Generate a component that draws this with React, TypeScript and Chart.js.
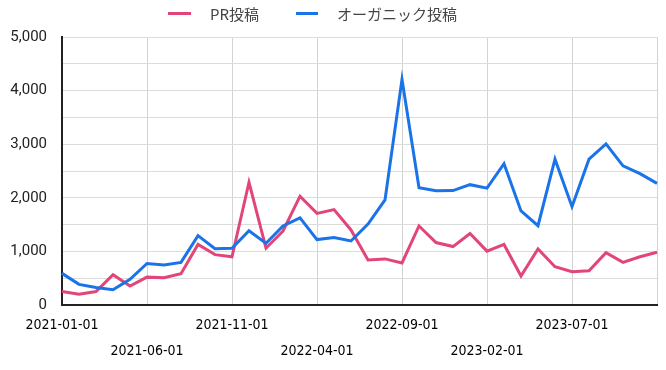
import React, { useEffect, useRef } from "react";
import { Chart, registerables } from "chart.js";

Chart.register(...registerables);

const months: string[] = [
  "2021-01-01", "2021-02-01", "2021-03-01", "2021-04-01", "2021-05-01", "2021-06-01",
  "2021-07-01", "2021-08-01", "2021-09-01", "2021-10-01", "2021-11-01", "2021-12-01",
  "2022-01-01", "2022-02-01", "2022-03-01", "2022-04-01", "2022-05-01", "2022-06-01",
  "2022-07-01", "2022-08-01", "2022-09-01", "2022-10-01", "2022-11-01", "2022-12-01",
  "2023-01-01", "2023-02-01", "2023-03-01", "2023-04-01", "2023-05-01", "2023-06-01",
  "2023-07-01", "2023-08-01", "2023-09-01", "2023-10-01", "2023-11-01", "2023-12-01",
];

const shownLabels: string[] = [
  "2021-01-01", "2021-06-01", "2021-11-01", "2022-04-01", "2022-09-01", "2023-02-01", "2023-07-01",
];

const prPosts: number[] = [
  250, 200, 250, 565, 355, 520, 510, 585, 1130, 940, 900, 2290,
  1060, 1380, 2030, 1710, 1780, 1400, 840, 860, 785, 1475, 1165, 1090,
  1335, 1005, 1130, 540, 1045, 715, 620, 640, 975, 795, 900, 985,
];

const organicPosts: number[] = [
  590, 385, 325, 285, 480, 775, 745, 795, 1295, 1050, 1060, 1385,
  1150, 1475, 1625, 1220, 1260, 1195, 1510, 1960, 4210, 2190, 2130, 2135,
  2245, 2180, 2635, 1755, 1480, 2720, 1835, 2720, 3005, 2595, 2450, 2270,
];

const seriesNames: string[] = ["PR投稿", "オーガニック投稿"];
const yTicks: number[] = [0, 1000, 2000, 3000, 4000, 5000];

const PINK = "#e2457a";
const BLUE = "#1a73e8";

export default function App() {
  const canvasRef = useRef<HTMLCanvasElement | null>(null);

  useEffect(() => {
    if (!canvasRef.current) return;
    const chart = new Chart(canvasRef.current, {
      type: "line",
      data: {
        labels: months,
        datasets: [
          {
            label: seriesNames[0],
            data: prPosts,
            borderColor: PINK,
            backgroundColor: PINK,
            borderWidth: 3,
            pointRadius: 0,
            tension: 0,
            order: 1,
          },
          {
            label: seriesNames[1],
            data: organicPosts,
            borderColor: BLUE,
            backgroundColor: BLUE,
            borderWidth: 3,
            pointRadius: 0,
            tension: 0,
            order: 0,
          },
        ],
      },
      options: {
        animation: false,
        responsive: true,
        maintainAspectRatio: false,
        layout: { padding: { top: 37, right: 9, left: 0, bottom: 0 } },
        plugins: {
          legend: { display: false },
          tooltip: { enabled: false },
        },
        scales: {
          x: {
            type: "category",
            offset: false,
            afterFit: (scale: any) => {
              scale.height = 65;
              scale.paddingRight = 0;
            },
            border: { display: true, color: "#222", width: 2 },
            grid: {
              drawTicks: false,
              color: (ctx: any) =>
                shownLabels.includes(months[ctx.index]) || ctx.index === months.length - 1
                  ? "#d3d3d3"
                  : "rgba(0,0,0,0)",
              lineWidth: 1,
            },
            ticks: {
              autoSkip: false,
              maxRotation: 0,
              minRotation: 0,
              padding: 7,
              color: "#000",
              font: {
                family: "'DejaVu Sans Condensed', 'Liberation Sans Narrow', sans-serif",
                size: 14,
                lineHeight: 26 / 14,
              },
              callback: (_v: any, i: number) => {
                const k = shownLabels.indexOf(months[i]);
                if (k < 0) return "";
                return k % 2 === 0 ? months[i] : ["", months[i]];
              },
            },
          },
          y: {
            min: 0,
            max: 5000,
            afterFit: (scale: any) => {
              scale.width = 62;
            },
            border: { display: true, color: "#222", width: 2 },
            grid: { drawTicks: false, color: "#dcdcdc", lineWidth: 1 },
            ticks: {
              stepSize: 500,
              padding: 15,
              color: "#222",
              font: { family: "Roboto, sans-serif", size: 15 },
              callback: (v: any) =>
                yTicks.includes(Number(v)) ? Number(v).toLocaleString("en-US") : "",
            },
          },
        },
      },
    });
    return () => chart.destroy();
  }, []);

  const legendText: React.CSSProperties = {
    position: "absolute",
    top: 4,
    height: 20,
    lineHeight: "20px",
    fontSize: 15,
    fontFamily: "'Noto Sans CJK JP', 'Noto Sans', sans-serif",
    color: "#444",
    whiteSpace: "nowrap",
  };

  return (
    <div style={{ position: "absolute", left: 0, top: 0, width: 666, height: 370, background: "#fff" }}>
      <canvas ref={canvasRef} />
      <div style={{ position: "absolute", left: 168, top: 12, width: 23, height: 3, background: PINK }} />
      <div style={{ ...legendText, left: 210 }}>{seriesNames[0]}</div>
      <div style={{ position: "absolute", left: 296, top: 12, width: 22, height: 3, background: BLUE }} />
      <div style={{ ...legendText, left: 337 }}>{seriesNames[1]}</div>
    </div>
  );
}
